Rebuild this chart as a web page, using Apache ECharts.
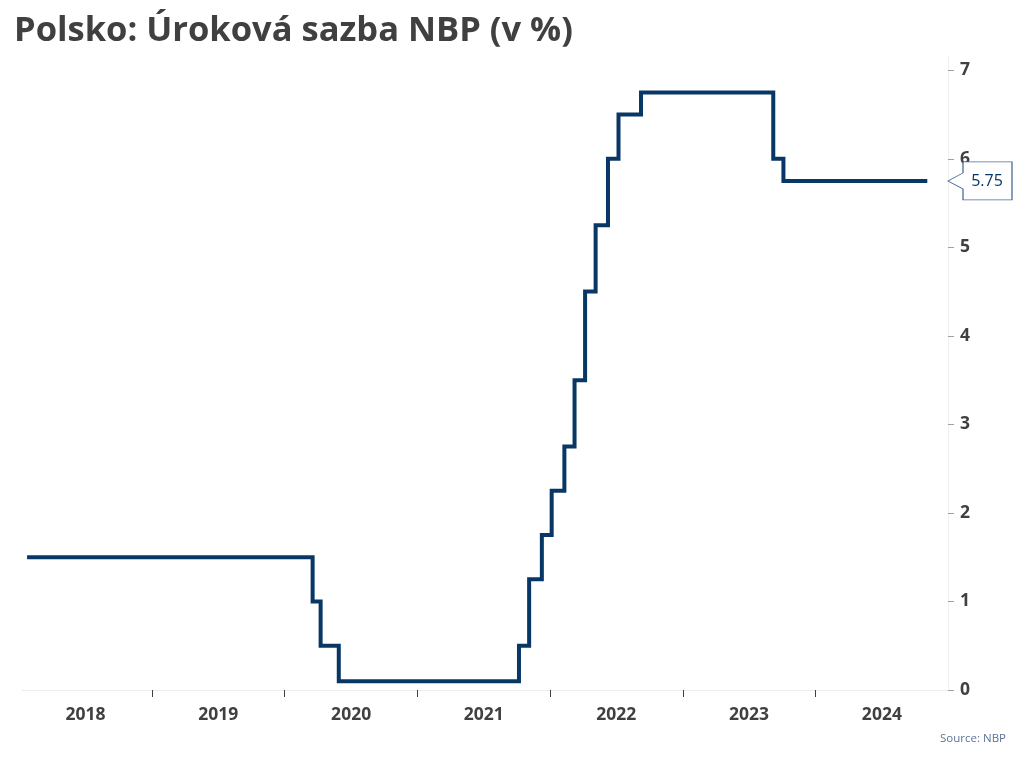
<!DOCTYPE html>
<html>
<head>
<meta charset="utf-8">
<script src="https://cdn.jsdelivr.net/npm/echarts@6/dist/echarts.min.js"></script>
<style>html,body{margin:0;padding:0;background:#fff}#c{width:1024px;height:768px}</style>
</head>
<body>
<div id="c"></div>
<script>
// Decision (effective) dates and NBP reference rate after each change
const dates = ['2018-01-22','2020-03-18','2020-04-09','2020-05-29','2021-10-07','2021-11-04','2021-12-09','2022-01-05','2022-02-09','2022-03-09','2022-04-07','2022-05-06','2022-06-09','2022-07-08','2022-09-08','2023-09-07','2023-10-05','2024-11-04'];
const rates = [1.5,1.0,0.5,0.1,0.5,1.25,1.75,2.25,2.75,3.5,4.5,5.25,6.0,6.5,6.75,6.0,5.75,5.75];
const years = [2018,2019,2020,2021,2022,2023,2024];
const yTicks = [0,1,2,3,4,5,6,7];
const xMin = '2018-01-08';
const xMax = '2024-12-31';
const title = 'Polsko: Úroková sazba NBP (v %)';
const source = 'Source: NBP';

const ts = s => new Date(s + 'T00:00:00Z').getTime();
const data = dates.map((d, i) => [ts(d), rates[i]]);
const tickVals = years.slice(1).map(y => ts(y + '-01-01'));
const labelVals = years.map(y => ts(y + '-07-02'));
const lastVal = rates[rates.length - 1];

const chart = echarts.init(document.getElementById('c'), null, {renderer: 'canvas'});
chart.setOption({
  animation: false,
  backgroundColor: '#fff',
  title: [{
    text: title, left: 9, top: 9,
    textStyle: {fontFamily: 'Open Sans', fontWeight: 'bold', fontSize: 34.5, color: '#404040'}
  }, {
    text: source, right: 13, bottom: 18,
    textStyle: {fontFamily: 'Open Sans', fontWeight: 'normal', fontSize: 11.5, color: '#5d7399'}
  }],
  grid: {left: 22, right: 76, top: 57, bottom: 78},
  xAxis: {
    type: 'value', min: ts(xMin), max: ts(xMax), scale: true,
    axisLine: {show: true, lineStyle: {color: '#ececec', width: 1}},
    axisTick: {show: true, customValues: tickVals, length: 7, lineStyle: {color: '#404040', width: 1}},
    axisLabel: {
      show: true, customValues: labelVals, margin: 16,
      formatter: v => String(new Date(v).getUTCFullYear()),
      fontFamily: 'Open Sans', fontWeight: 'bold', fontSize: 17.5, color: '#404040'
    },
    splitLine: {show: false}
  },
  yAxis: {
    type: 'value', position: 'right', min: 0, max: 7.15,
    axisLine: {show: true, lineStyle: {color: '#f0f0f0', width: 1}},
    axisTick: {show: true, inside: false, customValues: yTicks, length: 6, lineStyle: {color: '#a0a0a0', width: 1}},
    axisLabel: {
      show: true, customValues: yTicks, margin: 12,
      fontFamily: 'Open Sans', fontWeight: 'bold', fontSize: 17.5, color: '#404040'
    },
    splitLine: {show: false}
  },
  series: [{
    type: 'line', step: 'end', data: data, showSymbol: false, symbol: 'none',
    lineStyle: {color: '#083765', width: 4, join: 'miter'},
    markPoint: {
      silent: true,
      data: [{coord: [ts(xMax), lastVal], value: lastVal}],
      symbol: 'path://M0,19 L15,11 L15,0 L64,0 L64,38 L15,38 L15,27 Z',
      symbolSize: [64, 38], symbolOffset: [32, 0], symbolKeepAspect: false,
      itemStyle: {color: '#ffffff', borderColor: '#4a6d99', borderWidth: 1},
      label: {
        show: true, position: 'inside', offset: [7, 0],
        formatter: p => p.value.toFixed(2),
        fontFamily: 'Open Sans', fontSize: 16, color: '#083765'
      }
    }
  }]
});
</script>
</body>
</html>
